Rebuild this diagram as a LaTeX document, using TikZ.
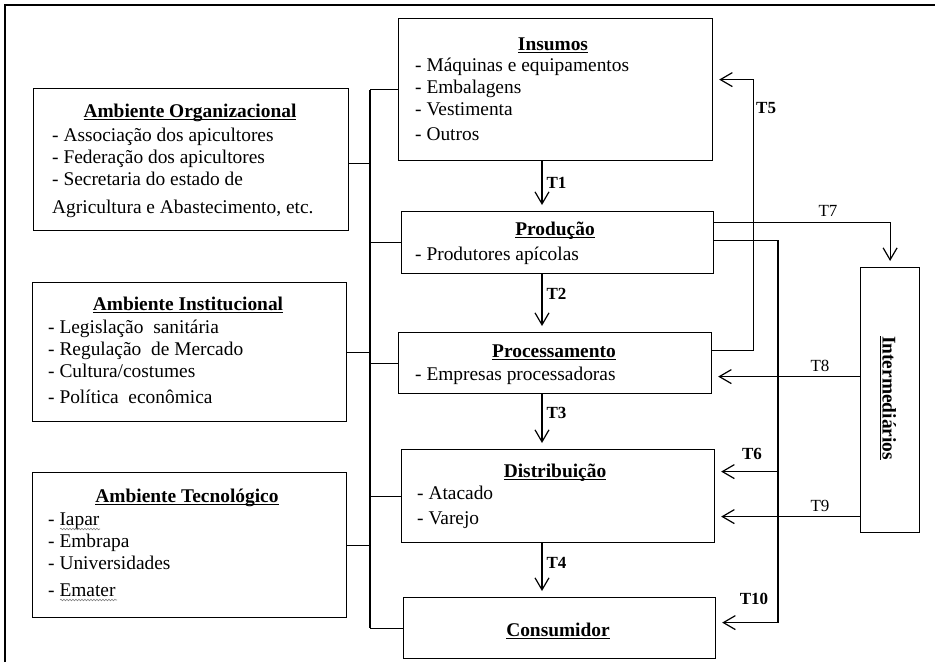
\documentclass[tikz,border=0pt]{standalone}
\usepackage{fontspec}
\setmainfont{Liberation Serif}
\usetikzlibrary{arrows.meta,decorations.pathmorphing,calc}
\newcommand{\uln}[1]{\setbox0\hbox{#1}\rlap{\rule[-2.6pt]{\wd0}{0.9pt}}\box0}
\begin{document}
\begin{tikzpicture}[x=1pt,y=-1pt,
  box/.style={draw, line width=1.2pt, inner sep=0pt, anchor=north west},
  ln/.style={line width=1.2pt},
  arr/.style={line width=1.2pt, -{Straight Barb[length=12pt,width=14pt]}, shorten >=6pt},
  ttl/.style={font=\fontsize{19.4}{22}\selectfont\bfseries, anchor=base, inner sep=0pt},
  itm/.style={font=\fontsize{19.4}{22}\selectfont, anchor=base west, inner sep=0pt},
  lab/.style={font=\fontsize{17}{20}\selectfont\bfseries, inner sep=0pt},
  labr/.style={font=\fontsize{17}{20}\selectfont, inner sep=0pt},
  squig/.style={gray, line width=0.6pt, decorate, decoration={snake, amplitude=0.8pt, segment length=3pt}}]
\useasboundingbox (0,0) rectangle (935,662);
% outer frame
\draw[line width=2pt] (5,662) -- (5,5) -- (935,5);

% left environment boxes
\node[box, minimum width=315pt, minimum height=142pt] (org) at (33,88) {};
\node[ttl] (orgT) at (190,117) {\uln{Ambiente Organizacional}};
\node[itm] (orgI) at (52,141) {\begin{tabular}[t]{@{}l@{}}- Associação dos apicultores\\ - Federação dos apicultores\\ - Secretaria do estado de\\[6pt] Agricultura e Abastecimento, etc.\end{tabular}};

\node[box, minimum width=314pt, minimum height=139pt] (inst) at (32,282) {};
\node[ttl] (instT) at (188,310) {\uln{Ambiente Institucional}};
\node[itm] (instI) at (48,333) {\begin{tabular}[t]{@{}l@{}}- Legislação \ sanitária\\ - Regulação \ de Mercado\\ - Cultura/costumes\\[4pt] - Política \ econômica\end{tabular}};

\node[box, minimum width=314pt, minimum height=145pt] (tec) at (32,472) {};
\node[ttl] (tecT) at (187,502) {\uln{Ambiente Tecnológico}};
\node[itm] (tecI) at (48,525) {\begin{tabular}[t]{@{}l@{}}- Iapar\\ - Embrapa\\ - Universidades\\[5pt] - Emater\end{tabular}};
\draw[squig] (60,529) -- (100,529);
\draw[squig] (60,600) -- (117,600);

% chain boxes
\node[box, minimum width=314pt, minimum height=142pt] (ins) at (398,18) {};
\node[ttl] (insT) at (553,50) {\uln{Insumos}};
\node[itm] (insI) at (415,71) {\begin{tabular}[t]{@{}l@{}}- Máquinas e equipamentos\\ - Embalagens\\ - Vestimenta\\[3pt] - Outros\end{tabular}};

\node[box, minimum width=312pt, minimum height=62pt] (prod) at (401,211) {};
\node[ttl] (prodT) at (555,235) {\uln{Produção}};
\node[itm] (prodI) at (415,260) {- Produtores apícolas};

\node[box, minimum width=313pt, minimum height=61pt] (proc) at (398,332) {};
\node[ttl] (procT) at (554,357) {\uln{Processamento}};
\node[itm] (procI) at (415,380) {- Empresas processadoras};

\node[box, minimum width=313pt, minimum height=93pt] (dist) at (401,449) {};
\node[ttl] (distT) at (555,477) {\uln{Distribuição}};
\node[itm] (distI) at (417,499) {\begin{tabular}[t]{@{}l@{}}- Atacado\\[3pt] - Varejo\end{tabular}};

\node[box, minimum width=312pt, minimum height=61pt] (cons) at (403,597) {};
\node[ttl] (consT) at (558,636) {\uln{Consumidor}};

\node[box, minimum width=59pt, minimum height=265pt] (inter) at (860,267) {};
\node[ttl, rotate=-90, anchor=center] (interT) at (888,398) {\uln{Intermediários}};

% spine on the left
\coordinate (sp) at (370,0);
\draw[ln] (sp |- ins.west) -- (sp |- cons.west);
\draw[ln] ([yshift=-4pt]org.east) -- ([yshift=-4pt]org.east -| sp);
\draw[ln] (inst.east) -- (inst.east -| sp);
\draw[ln] (tec.east) -- (tec.east -| sp);
\draw[ln] (sp |- ins.west) -- (ins.west);
\draw[ln] (sp |- prod.west) -- (prod.west);
\draw[ln] (sp |- proc.west) -- (proc.west);
\draw[ln] (sp |- dist.west) -- (dist.west);
\draw[ln] (sp |- cons.west) -- (cons.west);

% vertical chain arrows
\coordinate (ax) at (542,0);
\draw[arr] (ax |- ins.south) -- node[lab, anchor=west, pos=0.43, xshift=4pt] {T1} (ax |- prod.north);
\draw[arr] (ax |- prod.south) -- node[lab, anchor=west, pos=0.34, xshift=4pt] {T2} (ax |- proc.north);
\draw[arr] (ax |- proc.south) -- node[lab, anchor=west, pos=0.34, xshift=4pt] {T3} (ax |- dist.north);
\draw[arr] (ax |- dist.south) -- node[lab, anchor=west, pos=0.36, xshift=4pt] {T4} (ax |- cons.north);

% T5: processing back to inputs
\draw[arr] ([yshift=12.5pt]proc.east) -| ([xshift=40pt,yshift=10pt]ins.east) -- ([yshift=10pt]ins.east);
\node[lab, anchor=west] (lT5) at (756,108) {T5};

% T7: production to intermediaries
\draw[arr] ([yshift=20pt]prod.east) -| (inter.north);
\node[labr] (lT7) at (828,211) {T7};

% production direct to distribution and consumer
\coordinate (rv) at (778,0);
\draw[arr] ([yshift=2pt]prod.east) -| ([yshift=5.5pt]rv |- cons.east) -- ([yshift=5.5pt]cons.east);
\coordinate (t6s) at ([yshift=24.5pt]dist.east -| rv);
\draw[arr] (t6s) -- (t6s -| dist.east);
\node[lab] (lT6) at (752,454) {T6};
\node[lab] (lT10) at (754,599) {T10};

% intermediaries to processing and distribution
\coordinate (t8s) at ([yshift=23.5pt]inter.west);
\draw[arr] (t8s) -- (t8s -| proc.east);
\node[labr] (lT8) at (820,366) {T8};
\coordinate (t9s) at ([yshift=-116.5pt]inter.west);
\draw[arr] (t9s) -- (t9s -| dist.east);
\node[labr] (lT9) at (820,506) {T9};
\end{tikzpicture}
\end{document}
